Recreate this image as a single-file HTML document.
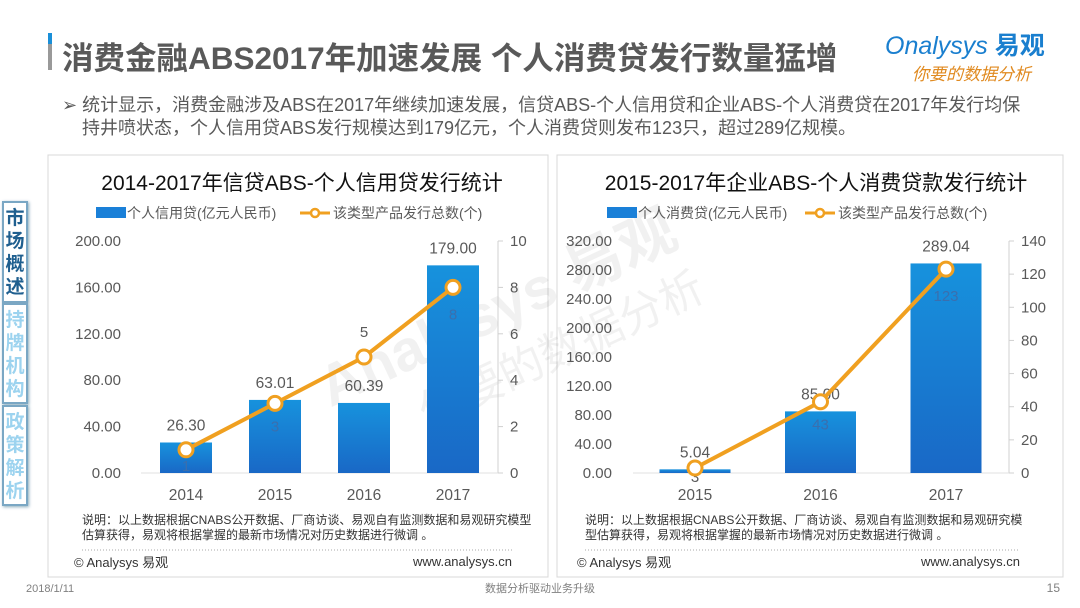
<!DOCTYPE html>
<html><head><meta charset="utf-8"><style>
body{margin:0;width:1080px;height:608px;background:#fff;position:relative;overflow:hidden;font-family:"Liberation Sans","Noto Sans CJK SC",sans-serif;}
.abs{position:absolute;}
.tab{position:absolute;left:2px;width:26px;background:#fff;border:2px solid #7aa7c4;box-shadow:1px 1px 3px #8ab;font-weight:bold;font-size:19px;line-height:23px;text-align:center;box-sizing:border-box;padding-top:4px;}
</style></head><body>
<div class="abs" style="left:48px;top:33px;width:4px;height:37px;background:linear-gradient(#1a8fd8 0 30%,#999 30%);"></div>
<div class="abs" style="left:62px;top:33px;font-size:31.5px;font-weight:bold;color:#595959;white-space:nowrap;">消费金融ABS2017年加速发展 个人消费贷发行数量猛增</div>
<div class="abs" style="left:885px;top:26px;font-size:25px;color:#1a7fcf;white-space:nowrap;"><i>Onalysys</i> <b>易观</b></div>
<div class="abs" style="left:912px;top:60px;font-size:17px;color:#e08a20;font-style:italic;white-space:nowrap;">你要的数据分析</div>
<div class="abs" style="left:62px;top:94px;font-size:18px;line-height:23px;color:#595959;white-space:nowrap;">➢ 统计显示，消费金融涉及ABS在2017年继续加速发展，信贷ABS-个人信用贷和企业ABS-个人消费贷在2017年发行均保<br>&nbsp;&nbsp;&nbsp;&nbsp;持井喷状态，个人信用贷ABS发行规模达到179亿元，个人消费贷则发布123只，超过289亿规模。</div>

<div class="tab" style="top:201px;height:102px;color:#1f5f8f;">市场概述</div>
<div class="tab" style="top:303px;height:101px;color:#9cd3ef;">持牌机构</div>
<div class="tab" style="top:405px;height:101px;color:#9cd3ef;">政策解析</div>

<svg class="abs" style="left:0;top:0" width="1080" height="608" id="svg">
<defs><linearGradient id="bg" x1="0" y1="0" x2="0" y2="1"><stop offset="0" stop-color="#1792dd"/><stop offset="1" stop-color="#1968c6"/></linearGradient></defs>
<rect x="48" y="155" width="500" height="422" fill="none" stroke="#d8d8d8"/>
<rect x="557" y="155" width="506" height="422" fill="none" stroke="#d8d8d8"/>
<text font-size="58" fill="#000" opacity="0.05" transform="rotate(-25 400 320)" font-weight="bold"><tspan x="300" y="370">Analysys 易观</tspan><tspan x="380" y="430" font-weight="normal" font-size="44">你要的数据分析</tspan></text>
<g id="c1"></g><g id="c2"></g>
<text x="540" y="592" font-size="11" fill="#808080" text-anchor="middle" font-family="Liberation Sans,Noto Sans CJK SC,sans-serif">数据分析驱动业务升级</text>
<text x="1060" y="592" font-size="12" fill="#808080" text-anchor="end">15</text>
<text x="26" y="592" font-size="11" fill="#808080">2018/1/11</text>
</svg>
<script>
const c1Cats=["2014","2015","2016","2017"];
const c1Bars=[26.30,63.01,60.39,179.00];
const c1Line=[1,3,5,8];
const c1LeftTicks=["0.00","40.00","80.00","120.00","160.00","200.00"];
const c1RightTicks=["0","2","4","6","8","10"];
const c2Cats=["2015","2016","2017"];
const c2Bars=[5.04,85.00,289.04];
const c2Line=[3,43,123];
const c2LeftTicks=["0.00","40.00","80.00","120.00","160.00","200.00","240.00","280.00","320.00"];
const c2RightTicks=["0","20","40","60","80","100","120","140"];
const NS="http://www.w3.org/2000/svg";
function mk(p,t,a,txt){const e=document.createElementNS(NS,t);for(const k in a)e.setAttribute(k,a[k]);if(txt!==undefined)e.textContent=txt;p.appendChild(e);return e;}
function chart(g,o){
  const lmax=parseFloat(o.lt[o.lt.length-1]),rmax=parseFloat(o.rt[o.rt.length-1]);
  const y0=473,y1=241;
  const yL=v=>y0-(v/lmax)*(y0-y1), yR=v=>y0-(v/rmax)*(y0-y1);
  const xC=i=>o.x0+o.step*i;
  let t=mk(g,'text',{x:o.cx,y:190,'font-size':21,'text-anchor':'middle',fill:'#111','font-family':'Liberation Sans,Noto Sans CJK SC,sans-serif'},o.title);
  
  let lg=mk(g,'g',{});
  mk(lg,'rect',{x:o.lgx,y:207,width:30,height:11,fill:'#1a80d8'});
  mk(lg,'text',{x:o.lgx+31,y:218,'font-size':14,fill:'#595959'},o.lg1);
  mk(lg,'line',{x1:o.lgx2,y1:213,x2:o.lgx2+30,y2:213,stroke:'#f0a020','stroke-width':3});
  mk(lg,'circle',{cx:o.lgx2+15,cy:213,r:4,fill:'#fff',stroke:'#f0a020','stroke-width':2.5});
  mk(lg,'text',{x:o.lgx2+33,y:218,'font-size':14,fill:'#595959'},'该类型产品发行总数(个)');
  o.lt.forEach(v=>{let e=mk(g,'text',{x:o.lx,y:yL(parseFloat(v))+5,'font-size':15,'text-anchor':'end',fill:'#595959'},v);});
  o.rt.forEach(v=>{let y=yR(parseFloat(v));mk(g,'line',{x1:o.rx,y1:y,x2:o.rx+5,y2:y,stroke:'#d0d0d0'});let e=mk(g,'text',{x:o.rx+12,y:y+5,'font-size':15,fill:'#595959'},v);});
  mk(g,'line',{x1:o.rx,y1:y0,x2:o.rx,y2:y1,stroke:'#d0d0d0'});
  mk(g,'line',{x1:o.bx,y1:y0,x2:o.rx,y2:y0,stroke:'#e0e0e0'});
  o.cats.forEach((c,i)=>{
    let y=yL(o.bars[i]);
    let r=mk(g,'rect',{x:xC(i)-o.bw/2,y:y,width:o.bw,height:y0-y,fill:'url(#bg)'});
    let lb=mk(g,'text',{x:xC(i),y:y-12,'font-size':15.5,'text-anchor':'middle',fill:'#595959'},o.bars[i].toFixed(2));
    let xt=mk(g,'text',{x:xC(i),y:500,'font-size':15.5,'text-anchor':'middle',fill:'#595959'},c);
  });
  const pts=o.line.map((v,i)=>xC(i)+','+yR(v)).join(' ');
  let pl=mk(g,'polyline',{points:pts,fill:'none',stroke:'#f0a020','stroke-width':4});
  o.line.forEach((v,i)=>{
    let lb=mk(g,'text',{x:xC(i),y:yR(v)+o.ldy[i],'font-size':15,'text-anchor':'middle',fill:o.lc[i]},String(v));
    let c=mk(g,'circle',{cx:xC(i),cy:yR(v),r:7,fill:'#fff',stroke:'#f0a020','stroke-width':3});
  });
  const nt=mk(g,'text',{'font-size':12,fill:'#333','font-family':'Liberation Sans,Noto Sans CJK SC,sans-serif'});
  
  mk(nt,'tspan',{x:o.nx,y:524},o.n1);mk(nt,'tspan',{x:o.nx,y:539},o.n2);
  mk(g,'line',{x1:o.nx,y1:550,x2:o.nx+o.nw,y2:550,stroke:'#aaa','stroke-dasharray':'1 2'});
  mk(g,'text',{x:o.nx-8,y:567,'font-size':13,fill:'#333'},'© Analysys 易观');
  mk(g,'text',{x:o.nx+o.nw,y:566,'font-size':13,fill:'#333','text-anchor':'end'},'www.analysys.cn');
}
chart(document.getElementById('c1'),{title:'2014-2017年信贷ABS-个人信用贷发行统计',cx:302,lgx:96,lg1:'个人信用贷(亿元人民币)',lgx2:300,
 lt:c1LeftTicks,rt:c1RightTicks,cats:c1Cats,bars:c1Bars,line:c1Line,x0:186,step:89,bw:52,lx:121,rx:498,bx:141,
 ldy:[21,28,-20,32],lc:['#3a6fae','#3a6fae','#595959','#3a6fae'],
 nx:82,nw:430,n1:'说明：以上数据根据CNABS公开数据、厂商访谈、易观自有监测数据和易观研究模型',n2:'估算获得，易观将根据掌握的最新市场情况对历史数据进行微调 。'});
chart(document.getElementById('c2'),{title:'2015-2017年企业ABS-个人消费贷款发行统计',cx:816,lgx:607,lg1:'个人消费贷(亿元人民币)',lgx2:805,
 lt:c2LeftTicks,rt:c2RightTicks,cats:c2Cats,bars:c2Bars,line:c2Line,x0:695,step:125.5,bw:71,lx:612,rx:1009,bx:633,
 ldy:[14,28,32],lc:['#595959','#3a6fae','#3a6fae'],
 nx:585,nw:435,n1:'说明：以上数据根据CNABS公开数据、厂商访谈、易观自有监测数据和易观研究模',n2:'型估算获得，易观将根据掌握的最新市场情况对历史数据进行微调 。'});
</script>
</body></html>
